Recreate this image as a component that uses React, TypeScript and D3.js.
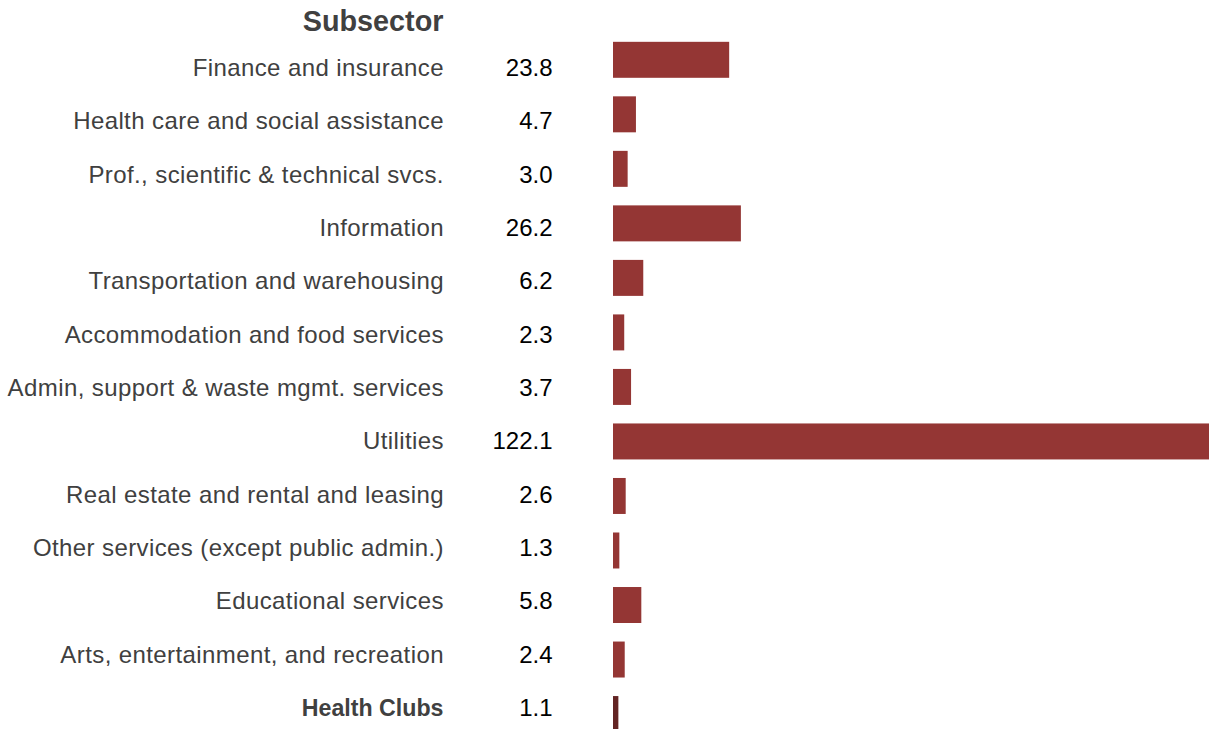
import React from "react";
import * as d3 from "d3";

const categories = [
  "Finance and insurance",
  "Health care and social assistance",
  "Prof., scientific & technical svcs.",
  "Information",
  "Transportation and warehousing",
  "Accommodation and food services",
  "Admin, support & waste mgmt. services",
  "Utilities",
  "Real estate and rental and leasing",
  "Other services (except public admin.)",
  "Educational services",
  "Arts, entertainment, and recreation",
  "Health Clubs",
];
const values = [23.8, 4.7, 3.0, 26.2, 6.2, 2.3, 3.7, 122.1, 2.6, 1.3, 5.8, 2.4, 1.1];
const highlight = "Health Clubs";
const header = "Subsector";

const W = 1209;
const H = 729;

export default function App() {
  const x = d3.scaleLinear().domain([0, d3.max(values) as number]).range([613, 1209]);
  const yText = d3.scalePoint<string>().domain(categories).range([67, 707]);
  const yBar = d3
    .scaleBand<string>()
    .domain(categories)
    .range([32.55, 32.55 + 54.52 * categories.length])
    .paddingInner(0.34)
    .paddingOuter(0.17);
  const font = "'Liberation Sans', Arial, Helvetica, sans-serif";
  return (
    <div style={{ position: "absolute", left: 0, top: 0, width: W, height: H, overflow: "hidden", background: "#fff" }}>
      <svg width={W} height={H} style={{ display: "block" }}>
        <text x={443.5} y={31} textAnchor="end" fontFamily={font} fontWeight="bold" fontSize={28.8} fill="#404040">
          {header}
        </text>
        {categories.map((c, i) => {
          const hl = c === highlight;
          return (
            <g key={c}>
              <text
                x={hl ? 443.5 : 443.9}
                y={(yText(c) as number) + 9}
                textAnchor="end"
                fontFamily={font}
                fontSize={hl ? 23.2 : 24}
                fontWeight={hl ? "bold" : "normal"}
                letterSpacing={hl ? 0 : 0.4}
                fill="#404040"
              >
                {c}
              </text>
              <text
                x={552.5}
                y={(yText(c) as number) + 9}
                textAnchor="end"
                fontFamily={font}
                fontSize={24}
                fill="#000"
              >
                {values[i].toFixed(1)}
              </text>
              <rect
                x={x(0)}
                y={yBar(c)}
                width={x(values[i]) - x(0)}
                height={yBar.bandwidth()}
                fill={hl ? "#632423" : "#943634"}
              />
            </g>
          );
        })}
      </svg>
    </div>
  );
}
